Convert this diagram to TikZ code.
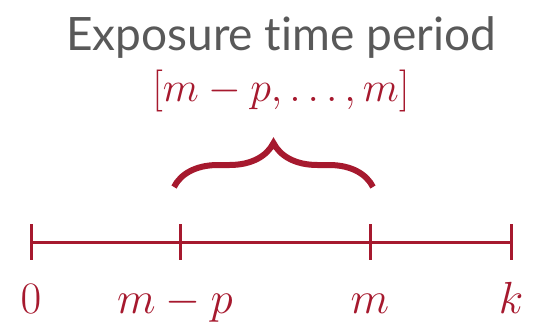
\documentclass[tikz,border=0pt]{standalone}
\usepackage{fix-cm}
\usepackage{fontspec}
\newfontfamily\titlefont[Ligatures=NoCommon]{Lato}
\usepackage{xcolor}
\usetikzlibrary{decorations.pathreplacing}
\definecolor{darkred}{RGB}{166,25,46}
\definecolor{titlegray}{RGB}{89,89,89}

\begin{document}
\begin{tikzpicture}[
    x=1pt, y=-1pt,
    axis/.style={draw=darkred, line width=3pt},
    tickmark/.style={draw=darkred, line width=3pt},
    lbl/.style={text=darkred, anchor=base, inner sep=0pt, font=\fontsize{45}{50}\selectfont},
    heading/.style={text=titlegray, anchor=base, inner sep=0pt, font=\titlefont\fontsize{46}{52}\selectfont},
    bracestyle/.style={draw=darkred, line width=6pt, decorate, decoration={brace, amplitude=44pt}}
]
\useasboundingbox (0,0) rectangle (554,324);

\node[heading] (title) at (281,50) {Exposure time period};
\node[lbl, font=\fontsize{42}{48}\selectfont] (period) at (281,101) {$[m-p,\ldots,m]$};

% timeline
\foreach \n/\x in {t0/31, tp/180, tm/370, tk/511}
    \coordinate (\n) at (\x,242);
\draw[axis] (t0) -- (tk);
\foreach \n in {t0, tp, tm, tk}
    \draw[tickmark] ([yshift=18pt]\n) -- ([yshift=-18pt]\n);

\node[lbl] (l0) at ([yshift=-71pt]t0) {$0$};
\node[lbl] (lp) at ([yshift=-71pt,xshift=-5pt]tp) {$m-p$};
\node[lbl] (lm) at ([yshift=-71pt]tm) {$m$};
\node[lbl] (lk) at ([yshift=-71pt]tk) {$k$};

% brace over the exposure window
\coordinate (bl) at (174,187);
\coordinate (br) at (373,187);
\draw[bracestyle] (bl) -- (br);
\end{tikzpicture}
\end{document}
